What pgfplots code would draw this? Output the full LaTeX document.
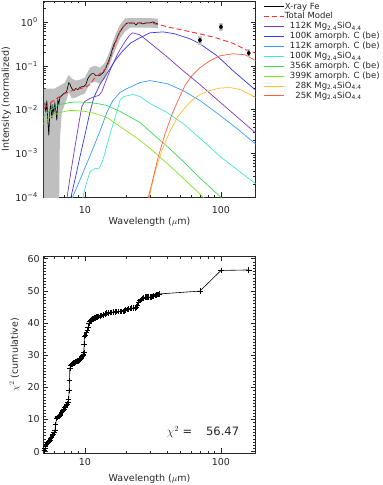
\documentclass[border=0pt]{standalone}
\usepackage{pgfplots}
\pgfplotsset{compat=1.18}
\usepackage{fontspec}
\setmainfont{DejaVu Sans}
\definecolor{cpurple}{RGB}{125,55,190}
\definecolor{cblue}{RGB}{50,55,240}
\definecolor{clblue}{RGB}{55,155,255}
\definecolor{caqua}{RGB}{65,232,210}
\definecolor{cgreen}{RGB}{60,218,85}
\definecolor{cygreen}{RGB}{130,228,35}
\definecolor{corange}{RGB}{255,188,50}
\definecolor{cred}{RGB}{255,95,65}
\definecolor{cdash}{RGB}{240,50,50}
\begin{document}
\begin{tikzpicture}
\path[use as bounding box] (0,0) rectangle (383pt,485pt);
% ---------------- top panel ----------------
\begin{axis}[scale only axis, width=212.4pt, height=196.3pt,
  at={(43.3pt,287.7pt)}, anchor=south west,
  xmode=log, xmin=4.95, xmax=180,
  xtick={10,100}, xticklabels={10,100},
  minor xtick={5,6,7,8,9,20,30,40,50,60,70,80,90},
  major tick length=5pt, minor tick length=2.5pt,
  every tick/.append style={black!85, line width=0.5pt},
  axis line style={black!85, line width=0.6pt},
  tick label style={font=\fontsize{9.5}{11}\selectfont, text=black!85},
  label style={font=\fontsize{9.5}{11}\selectfont, text=black!85},
  ymode=log, ymin=1e-4, ymax=3,
  ytick={1e-4,1e-3,1e-2,1e-1,1},
  yticklabels={10\textsuperscript{−4},10\textsuperscript{−3},10\textsuperscript{−2},10\textsuperscript{−1},10\textsuperscript{0}},
  minor ytick={2e-4,3e-4,4e-4,5e-4,6e-4,7e-4,8e-4,9e-4,2e-3,3e-3,4e-3,5e-3,6e-3,7e-3,8e-3,9e-3,2e-2,3e-2,4e-2,5e-2,6e-2,7e-2,8e-2,9e-2,0.2,0.3,0.4,0.5,0.6,0.7,0.8,0.9,2,3},
  xticklabel style={yshift=-6pt},
  yticklabel style={xshift=-2pt},
  xlabel={Wavelength ($\mu$m)}, ylabel={Intensity (normalized)},
  xlabel style={at={(axis description cs:0.5,-0.1245)}, anchor=center},
  ylabel style={at={(axis description cs:-0.174,0.5)}, anchor=center},
  legend style={at={(1.034,0.997)}, anchor=north west, draw=none, fill=none,
    font=\fontsize{8.5}{9.5}\selectfont, text=black!85, inner sep=0pt, row sep=0pt,
    nodes={inner sep=0.95pt, text height=6.3pt, text depth=1.7pt}},
  legend cell align=left,
  legend image code/.code={\draw[#1] (0pt,0pt) -- (20pt,0pt);},
]
% error band of the spectrum
\addplot[forget plot, draw=none, fill=black!25] coordinates {
(4.994,0.0302) (5.53,0.0302) (6.019,0.0302) (6.332,0.0335) (6.55,0.0353)
(7.128,0.0413) (7.627,0.0627) (8.024,0.0509) (8.586,0.0459) (9.188,0.0483)
(10.0,0.0537) (10.88,0.0904) (11.85,0.1004) (12.89,0.0904) (14.03,0.117)
(15.27,0.220) (16.62,0.481) (18.09,0.855) (19.69,1.20) (21.43,1.22)
(25.38,1.22) (30.06,1.22) (34.42,1.18)
(34.42,0.72) (30.06,0.74) (25.38,0.74) (21.43,0.74) (19.69,0.60)
(18.09,0.411) (16.62,0.220) (15.27,0.1115) (14.03,0.0509) (12.89,0.0392)
(11.85,0.0435) (10.88,0.0392) (10.0,0.0233) (9.188,0.0210) (8.586,0.0189)
(8.024,0.0179) (7.627,0.0245) (7.128,0.0131) (6.775,0.00862) (6.55,0.0020)
(6.44,0.00002) (4.994,0.00002)
} -- cycle;
% X-ray Fe spectrum
\addplot[black, line width=0.65pt] coordinates {
(5.079,0.0145) (5.166,0.00862) (5.255,0.0161) (5.345,0.00568) (5.437,0.00259)
(5.530,0.00957) (5.625,0.0131) (5.721,0.0063) (5.819,0.0118) (5.918,0.00862)
(6.019,0.0138) (6.121,0.00957) (6.226,0.00568) (6.332,0.0170) (6.440,0.0131)
(6.550,0.0189) (6.775,0.0210) (7.008,0.0233) (7.250,0.0245) (7.373,0.0272)
(7.499,0.0335) (7.627,0.0413) (7.757,0.0392) (7.889,0.0335) (8.024,0.0302)
(8.300,0.0272) (8.586,0.0302) (8.881,0.0287) (9.188,0.0318) (9.504,0.0335)
(9.831,0.0335) (10.17,0.0372) (10.52,0.0509) (10.88,0.0596) (11.26,0.0661)
(11.65,0.0661) (12.05,0.0596) (12.46,0.0596) (12.89,0.0596) (13.34,0.0661)
(13.80,0.0734) (14.27,0.0904) (14.76,0.117) (15.27,0.153) (15.80,0.220)
(16.34,0.301) (16.90,0.371) (17.49,0.481) (18.09,0.593) (18.71,0.694)
(19.36,0.811) (20.02,0.901) (20.72,0.949) (21.43,0.949) (22.17,0.949)
(22.93,0.949) (23.71,0.855) (24.53,0.949) (25.38,0.949) (26.70,0.901)
(28.08,0.949) (30.06,0.949) (31.62,1.0) (32.71,0.949) (34.42,0.901)
};
\addlegendentry{X-ray Fe}
% total model
\addplot[cdash, line width=0.9pt, dash pattern=on 5pt off 3pt] coordinates {
(4.994,0.0106) (5.53,0.0138) (6.019,0.0170) (6.55,0.0199) (7.128,0.0233)
(7.757,0.0258) (8.444,0.0287) (9.188,0.0302) (10.0,0.0318) (10.88,0.0372)
(11.85,0.0537) (12.89,0.0661) (14.03,0.0815) (14.76,0.106) (15.53,0.161)
(16.34,0.271) (17.2,0.411) (18.09,0.593) (19.03,0.770) (20.02,0.878)
(21.43,0.925) (25.38,0.949) (30.06,0.949) (35.6,0.855) (42.17,0.750)
(52.6,0.648) (70.1,0.534) (93.5,0.427) (122.5,0.325) (158.0,0.220) (181,0.193)
};
\addlegendentry{Total Model}
% 112K Mg2.4SiO4.4
\addplot[cpurple, line width=0.7pt] coordinates {
(7.373,9.16e-5) (7.889,3.75e-4) (8.444,0.00139) (9.035,0.00485) (9.504,0.0118)
(10.0,0.0153) (10.88,0.0179) (11.85,0.0199) (12.67,0.0210) (13.34,0.0258)
(14.03,0.0392) (15.27,0.0773) (16.62,0.1374) (18.09,0.2316) (19.69,0.352)
(21.43,0.507) (22.5,0.563) (25.38,0.507) (30.06,0.334) (40.1,0.1607)
(52.6,0.0773) (70.1,0.0372) (93.5,0.0170) (137.9,0.00598) (181,0.00288)
};
\addlegendentry{\hspace*{5pt}112K Mg\textsubscript{2.4}SiO\textsubscript{4.4}}
% 100K amorph C
\addplot[cblue, line width=0.7pt] coordinates {
(7.849,9.16e-5) (8.444,2.47e-4) (9.188,8.22e-4) (10.0,0.00259) (10.88,0.00862)
(11.65,0.0189) (12.89,0.0372) (14.51,0.0661) (16.62,0.130) (19.03,0.220)
(21.79,0.334) (25.38,0.434) (30.06,0.563) (37.5,0.593) (45.9,0.534)
(59.2,0.411) (70.1,0.317) (93.5,0.169) (122.5,0.0773) (181,0.0272)
};
\addlegendentry{\hspace*{5pt}100K amorph. C (be)}
% 112K amorph C
\addplot[clblue, line width=0.7pt] coordinates {
(8.024,9.16e-5) (9.188,2.47e-4) (10.88,8.66e-4) (12.89,0.00318) (14.51,0.00862)
(16.06,0.0161) (18.09,0.0245) (20.37,0.0302) (25.38,0.0413) (30.06,0.0459)
(40.1,0.0392) (52.6,0.0272) (70.1,0.0161) (98.4,0.0074) (133.3,0.00355) (181,0.00161)
};
\addlegendentry{\hspace*{5pt}112K amorph. C (be)}
% 100K Mg2.4SiO4.4
\addplot[caqua, line width=0.7pt] coordinates {
(9.618,9.16e-5) (10.17,1.9e-4) (10.88,3.75e-4) (11.85,4.63e-4) (12.67,4.39e-4)
(13.56,7.03e-4) (15.27,0.0027) (17.2,0.00909) (18.09,0.0161) (19.36,0.0199)
(22.5,0.0221) (25.38,0.0199) (30.06,0.0138) (40.1,0.00862) (52.6,0.00485)
(70.1,0.00222) (100,8.22e-4) (181,2.0e-4)
};
\addlegendentry{\hspace*{5pt}100K Mg\textsubscript{2.4}SiO\textsubscript{4.4}}
% 356K amorph C
\addplot[cgreen, line width=0.7pt] coordinates {
(4.912,0.00664) (5.53,0.00957) (6.55,0.0131) (7.757,0.0145) (8.444,0.0149)
(9.188,0.0149) (10.88,0.0145) (12.89,0.0134) (14.51,0.0124) (18.09,0.0091)
(25.38,0.0051) (30.06,0.00320) (40.1,0.00146) (52.6,6.67e-4) (70.1,2.74e-4)
(100,1.0e-4) (104,8.26e-5)
};
\addlegendentry{\hspace*{5pt}356K amorph. C (be)}
% 399K amorph C
\addplot[cygreen, line width=0.7pt] coordinates {
(4.912,0.0046) (5.53,0.00664) (6.55,0.00862) (7.757,0.00957) (8.444,0.00957)
(10.0,0.0091) (11.85,0.00818) (14.51,0.00664) (18.09,0.00415) (25.38,0.0020)
(30.06,0.00131) (40.1,6.01e-4) (52.6,2.74e-4) (70.1,1.19e-4) (77.6,8.7e-5)
};
\addlegendentry{\hspace*{5pt}399K amorph. C (be)}
% 28K Mg2.4SiO4.4
\addplot[corange, line width=0.7pt] coordinates {
(29.55,9.16e-5) (32.71,3.75e-4) (36.83,0.00118) (42.17,0.0032) (48.3,0.0070)
(55.3,0.0118) (62.3,0.017) (70.1,0.0221) (83.0,0.0272) (98.4,0.031)
(116.4,0.0318) (137.9,0.0287) (181,0.0189)
};
\addlegendentry{\hspace*{5pt}\phantom{1}28K Mg\textsubscript{2.4}SiO\textsubscript{4.4}}
% 25K Mg2.4SiO4.4
\addplot[cred, line width=0.7pt] coordinates {
(29.05,9.16e-5) (31.1,2.11e-4) (34.42,7.8e-4) (38.73,0.00273) (43.63,0.00777)
(48.3,0.0161) (54.4,0.0353) (61.2,0.0596) (70.1,0.0904) (83.0,0.130)
(98.4,0.169) (122.5,0.188) (150.2,0.178) (181,0.130)
};
\addlegendentry{\hspace*{5pt}\phantom{1}25K Mg\textsubscript{2.4}SiO\textsubscript{4.4}}
% photometry
\addplot[forget plot, only marks, mark=diamond*, mark size=2.3pt, black,
  error bars/.cd, y dir=both, y explicit,
  error bar style={line width=3.5pt, color=black!22}, error mark=none]
  coordinates {
  (70,0.384) += (0,0.097) -= (0,0.083)
  (100,0.77) += (0,0.194) -= (0,0.145)
  (160,0.195) += (0,0.045) -= (0,0.035)
};
\end{axis}
% ---------------- bottom panel ----------------
\begin{axis}[scale only axis, width=212.4pt, height=197.3pt,
  at={(43.3pt,31.7pt)}, anchor=south west,
  xmode=log, xmin=4.95, xmax=180,
  xtick={10,100}, xticklabels={10,100},
  minor xtick={5,6,7,8,9,20,30,40,50,60,70,80,90},
  major tick length=5pt, minor tick length=2.5pt,
  every tick/.append style={black!85, line width=0.5pt},
  axis line style={black!85, line width=0.6pt},
  tick label style={font=\fontsize{9.5}{11}\selectfont, text=black!85},
  label style={font=\fontsize{9.5}{11}\selectfont, text=black!85},
  ymin=-0.5, ymax=60.8,
  ytick={0,10,20,30,40,50,60}, yticklabels={0,10,20,30,40,50,60},
  minor y tick num=9,
  xticklabel style={yshift=-1.7pt},
  xlabel={Wavelength ($\mu$m)}, ylabel={$\chi^2$ (cumulative)},
  xlabel style={at={(axis description cs:0.5,-0.130)}, anchor=center},
  ylabel style={at={(axis description cs:-0.135,0.5)}, anchor=center},
]
\addplot[black, line width=0.6pt, mark=+, mark size=2.8pt, mark options={line width=0.6pt}] coordinates {
(5.036,0.3) (5.079,1.0) (5.15,1.6) (5.229,2.3) (5.30,2.7) (5.372,3.0) (5.45,3.3)
(5.530,3.6) (5.61,4.1) (5.691,4.6) (5.77,5.0) (5.848,5.3) (5.93,5.9) (6.019,6.7)
(6.105,8.5) (6.195,10.3) (6.28,10.6) (6.365,10.9) (6.46,11.1) (6.550,11.3)
(6.64,11.7) (6.741,12.1) (6.83,12.5) (6.924,12.8) (7.02,13.3) (7.128,13.9)
(7.23,14.1) (7.335,14.4) (7.42,14.8) (7.499,15.2) (7.60,16.4) (7.666,19.0)
(7.72,22.1) (7.757,26.0) (7.87,26.8) (7.984,27.1) (8.09,27.3) (8.204,27.5)
(8.32,27.6) (8.444,27.8) (8.57,27.9) (8.690,28.0) (8.81,28.1) (8.926,28.2)
(9.06,28.4) (9.188,28.7) (9.32,29.0) (9.456,29.3) (9.56,29.6) (9.667,30.0)
(9.75,30.4) (9.831,30.8) (9.882,33.5) (9.95,35.9) (10.09,36.3) (10.29,37.0)
(10.43,37.8) (10.58,38.8) (10.73,39.8) (10.88,40.6) (11.04,40.8) (11.20,41.0)
(11.36,41.2) (11.53,41.3) (11.69,41.5) (11.85,41.6) (12.05,41.8) (12.25,41.9)
(12.56,42.0) (12.89,42.1) (13.25,42.3) (13.63,42.5) (14.03,42.8) (14.44,43.0)
(14.85,43.1) (15.27,43.2) (15.70,43.3) (16.15,43.4) (16.62,43.45) (17.10,43.5)
(17.59,43.5) (18.09,43.5) (18.60,43.55) (19.12,43.6) (19.53,43.8) (19.95,44.0)
(20.38,44.2) (20.82,44.4) (21.43,44.5) (22.05,44.6) (22.68,44.65) (23.32,44.7)
(23.82,45.0) (24.32,45.5) (24.85,46.3) (25.38,47.0) (25.93,47.3) (26.49,47.6)
(27.05,47.8) (27.62,48.0) (28.22,48.0) (28.82,48.0) (29.44,48.0) (30.06,48.0)
(30.70,48.1) (31.35,48.2) (32.02,48.3) (32.71,48.5) (33.27,48.6) (33.84,48.8)
(34.42,48.9) (35.0,49.0) (70,49.9) (100,56.3) (160,56.47)
};
\node[font=\fontsize{11.5}{13}\selectfont, text=black!85] at (rel axis cs:0.752,0.108) {$\chi^2$ =\hspace{1.2em}56.47};
\end{axis}
\end{tikzpicture}
\end{document}
